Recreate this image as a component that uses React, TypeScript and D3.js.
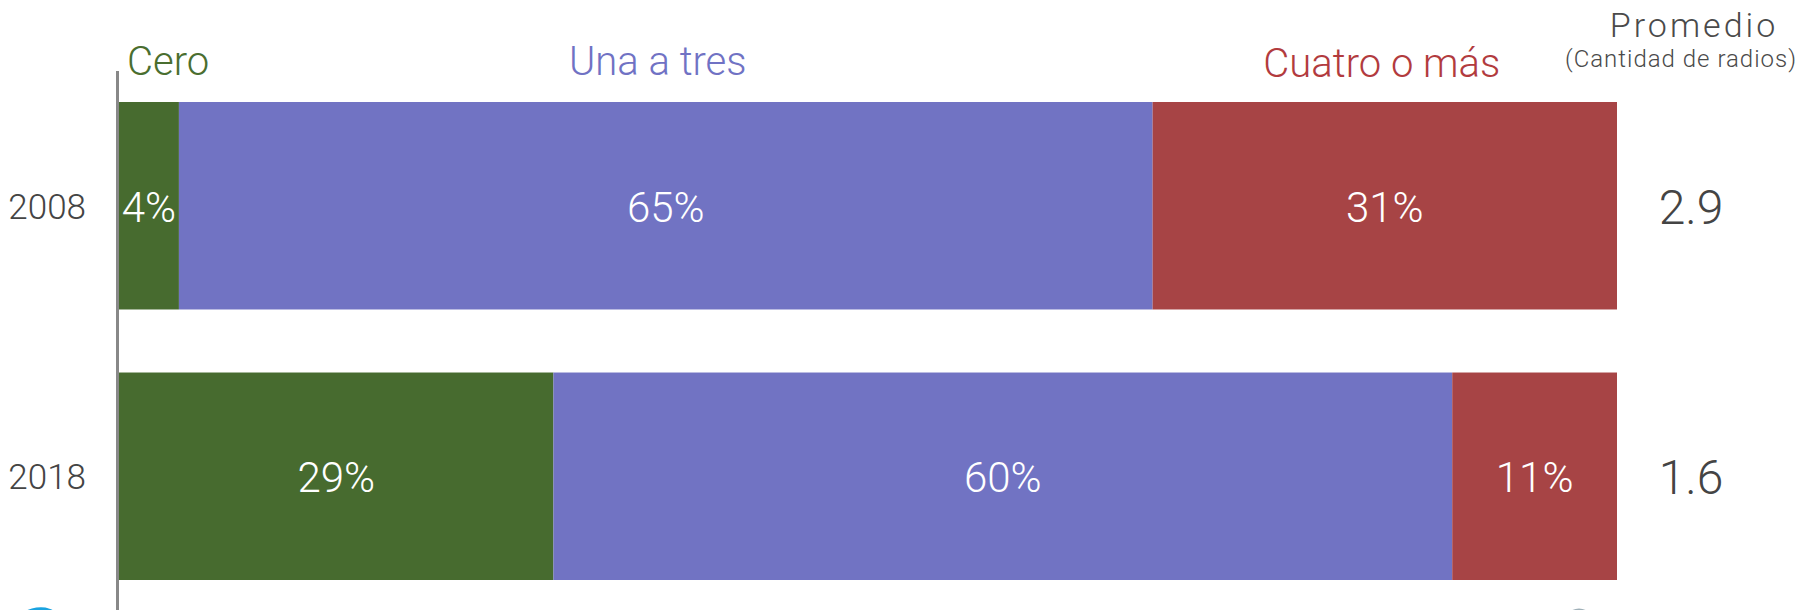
import React from "react";
import * as d3 from "d3";

const years = ["2008", "2018"];
const categories = ["Cero", "Una a tres", "Cuatro o más"];
const cero = [4, 29];
const unaATres = [65, 60];
const cuatroOMas = [31, 11];
const promedio = ["2.9", "1.6"];
const barColors = ["#476B2F", "#7173C3", "#A74445"];
const headColors = ["#4A6E2F", "#7072C4", "#B23B3E"];

const W = 1804;
const H = 610;
const FONT = "Roboto, 'Open Sans', 'Noto Sans', sans-serif";

export default function App() {
  const x = d3.scaleLinear().domain([0, 100]).range([119, 1617]);
  const y = d3.scaleBand<string>().domain(years).range([102, 580]).paddingInner(0.233).paddingOuter(0);

  const rows = years.map((yr, i) => ({ year: yr, values: [cero[i], unaATres[i], cuatroOMas[i]] }));
  const stacked = rows.map((r) => {
    let acc = 0;
    return r.values.map((v, k) => {
      const s = { x0: acc, x1: acc + v, v, k };
      acc += v;
      return s;
    });
  });

  const first = stacked[0];
  const headBaseline = 75;

  return (
    <svg width={W} height={H} style={{ position: "absolute", left: 0, top: 0, display: "block", background: "#fff" }} fontFamily={FONT}>
      {/* bars */}
      {rows.map((r, i) => {
        const y0 = y(r.year)!;
        const bw = y.bandwidth();
        const cy = y0 + bw / 2;
        return (
          <g key={r.year}>
            {stacked[i].map((s) => (
              <rect key={s.k} x={x(s.x0)} y={y0} width={x(s.x1) - x(s.x0)} height={bw} fill={barColors[s.k]} />
            ))}
            {stacked[i].map((s) => (
              <text key={"t" + s.k} x={(x(s.x0) + x(s.x1)) / 2} y={cy + 16} textAnchor="middle" fill="#fff" fontSize={42} fontWeight={300}>
                {s.v + "%"}
              </text>
            ))}
            <text x={86} y={cy + 13} textAnchor="end" fill="#444" fontSize={35} fontWeight={300}>
              {r.year}
            </text>
            <text x={1691} y={cy + 18} textAnchor="middle" fill="#444" fontSize={48} fontWeight={300}>
              {promedio[i]}
            </text>
          </g>
        );
      })}

      {/* axis line */}
      <line x1={117.5} x2={117.5} y1={71} y2={H} stroke="#888" strokeWidth={3} />

      {/* category headers */}
      <text x={127} y={headBaseline} fill={headColors[0]} fontSize={40} fontWeight={300}>
        {categories[0]}
      </text>
      <text x={(x(first[1].x0) + x(first[1].x1)) / 2 - 8} y={headBaseline} textAnchor="middle" fill={headColors[1]} fontSize={40} fontWeight={300}>
        {categories[1]}
      </text>
      <text x={(x(first[2].x0) + x(first[2].x1)) / 2 - 3} y={headBaseline + 2} textAnchor="middle" fill={headColors[2]} fontSize={40} fontWeight={300}>
        {categories[2]}
      </text>

      {/* Promedio header */}
      <text x={1694} y={37} textAnchor="middle" fill="#4a4a4a" fontSize={34} fontWeight={300} letterSpacing={3}>
        Promedio
      </text>
      <text x={1681} y={67} textAnchor="middle" fill="#4a4a4a" fontSize={24} fontWeight={300} letterSpacing={1}>
        (Cantidad de radios)
      </text>

      {/* partial logo decorations at bottom */}
      <ellipse cx={36} cy={624} rx={24} ry={16} fill="#1AA3E0" transform="rotate(-15 36 624)" />
      <ellipse cx={1579} cy={625} rx={14} ry={15} fill="none" stroke="#9fb0b8" strokeWidth={3} />
    </svg>
  );
}
